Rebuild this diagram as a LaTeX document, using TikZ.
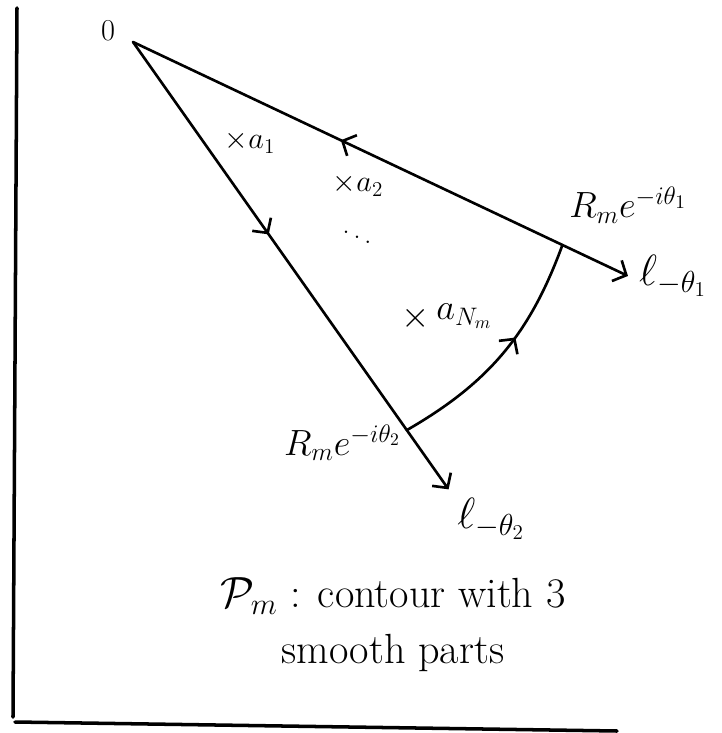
\documentclass[tikz,border=0pt]{standalone}
\usepackage{amsmath}
\usepackage{amssymb}
\usepackage{tikz}
\usetikzlibrary{positioning,calc,arrows.meta,decorations.markings}

\begin{document}
\begin{tikzpicture}[>={Straight Barb[length=6pt,width=13pt]}, line cap=round, every node/.style={font=\fontsize{24}{32}\selectfont}]
  \tikzstyle{ray}=[line width=1.5pt]
  \tikzstyle{axis}=[line width=2pt]
  \tikzstyle{pt}=[font=\fontsize{17}{20}\selectfont]
  \tikzstyle{big}=[font=\fontsize{26}{30}\selectfont]
  \tikzstyle{fwd}=[postaction={decorate}, decoration={markings, mark=at position #1 with {\arrow{>}}}]
  \tikzstyle{bwd}=[postaction={decorate}, decoration={markings, mark=at position #1 with {\arrowreversed{>}}}]
  \useasboundingbox (0,0) rectangle (14.44,-14.66);
  % axes
  \coordinate (top) at (0.34,-0.16);
  \coordinate (corner) at (0.26,-14.34);
  \coordinate (bl) at (0.30,-14.44);
  \coordinate (br) at (12.34,-14.62);
  \draw[axis] (top) -- (corner);
  \draw[axis] (bl) -- (br);
  % the two rays and the arc
  \coordinate (O) at (2.66,-0.84);
  \coordinate (A) at ($(O)+(-25.3:9.5)$);
  \coordinate (B) at ($(O)+(-54.8:9.5)$);
  \coordinate (E1) at ($(O)+(-25.3:10.95)$);
  \coordinate (E2) at ($(O)+(-54.8:10.95)$);
  \draw[ray, ->, bwd=0.42] (O) -- (E1);
  \draw[ray, ->, fwd=0.43] (O) -- (E2);
  \draw[ray, fwd=0.58] (B) to[bend right=20] (A);
  % labels
  \node[pt] (zero) at (2.16,-0.62) {$0$};
  \node[pt] (a1) at (5.0,-2.84) {$\times a_1$};
  \node[pt] (a2) at (7.16,-3.7) {$\times a_2$};
  \node[pt] (dots) at (7.14,-4.64) {$\ddots$};
  \node[font=\fontsize{20}{24}\selectfont] (aN) at (8.94,-6.34) {$\raisebox{-0.5ex}{$\times$}\, a_{N_m}$};
  \node[font=\fontsize{22}{26}\selectfont] (Rm1) at (12.56,-4.1) {$R_m e^{-i\theta_1}$};
  \node[big, right=0.1cm of E1] (l1) {$\ell_{-\theta_1}$};
  \node[big, below right=0.05cm and 0.05cm of E2] (l2) {$\ell_{-\theta_2}$};
  \node[font=\fontsize{20}{24}\selectfont, left=0.0cm of B, yshift=-0.25cm] (Rm2) {$R_m e^{-i\theta_2}$};
  \node[align=center] (caption) at (7.86,-12.5) {$\mathcal{P}_m$ : contour with 3\\smooth parts};
\end{tikzpicture}
\end{document}
